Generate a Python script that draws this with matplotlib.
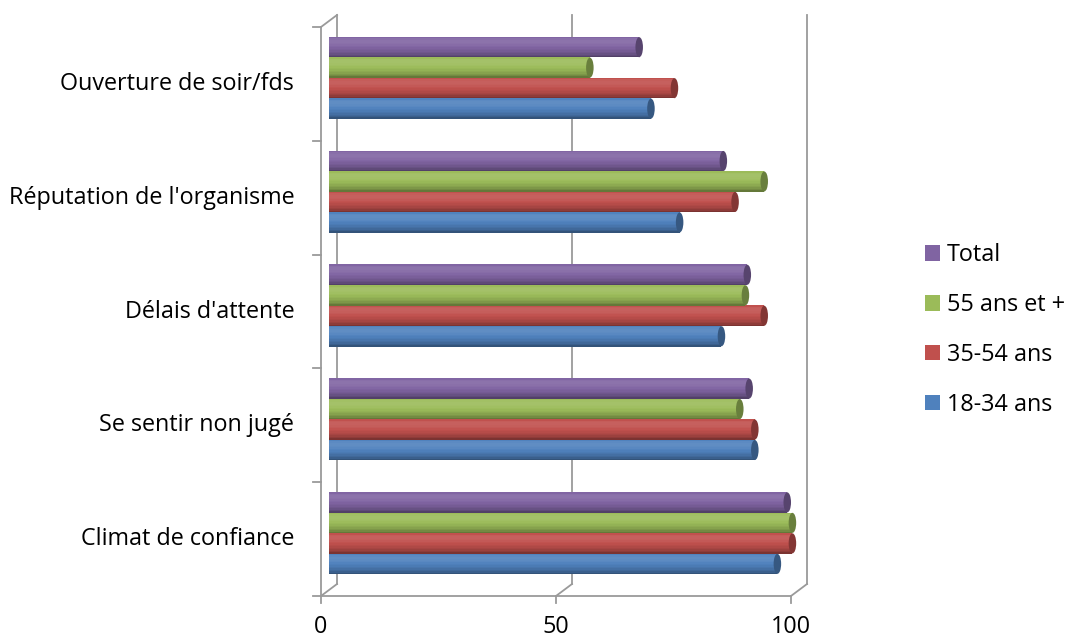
import numpy as np
import matplotlib
matplotlib.use("Agg")
import matplotlib.pyplot as plt
from matplotlib.patches import Ellipse, Patch
from matplotlib.colors import to_rgb

# data (bottom -> top as drawn)
categories = ["Climat de confiance", "Se sentir non jugé", "Délais d'attente",
              "Réputation de l'organisme", "Ouverture de soir/fds"]
series = ["18-34 ans", "35-54 ans", "55 ans et +", "Total"]
v_18_34 = [95.4, 90.6, 83.5, 74.6, 68.5]
v_35_54 = [98.6, 90.6, 92.6, 86.4, 73.5]
v_55 = [98.6, 87.4, 88.6, 92.6, 55.5]
v_total = [97.5, 89.4, 89.0, 83.9, 66.0]
xticks = [0, 50, 100]
colors = ["#4F81BD", "#C0504D", "#9BBB59", "#8064A2"]

FONT = "Open Sans"
FS = 16.8
W, H = 1066, 640
fig = plt.figure(figsize=(W / 100, H / 100), dpi=100)
# axes: x 0..100 -> px 329..799, y -0.5..4.5 -> px 590..21
ax = fig.add_axes([329 / W, 50 / H, 470 / W, 569 / H])
ax.set_xlim(0, 100)
ax.set_ylim(-0.5, 4.5)
ax.axis("off")

dx = 8 / 4.7       # depth offset in x data units
dy = 6 / 113.8     # depth offset in y data units
grid = "#9a9a9a"
lw = 1.3


def shade(c, f):
    c = np.array(to_rgb(c))
    if f > 1:
        return tuple(c + (1 - c) * (f - 1) * 1.6)
    return tuple(c * f)


# back-plane gridlines + floor
for v in xticks:
    ax.plot([v + dx, v + dx], [-0.5 + dy, 4.5 + dy], color=grid, lw=lw, clip_on=False, zorder=1)
    ax.plot([v - dx, v + dx], [-0.5 - dy, -0.5 + dy], color=grid, lw=lw, clip_on=False, zorder=1)
    ax.plot([v - dx, v - dx], [-0.5 - dy, -0.5 - dy - 0.06], color=grid, lw=lw, clip_on=False)
ax.plot([-dx, 100 - dx], [-0.5 - dy, -0.5 - dy], color=grid, lw=lw, clip_on=False, zorder=1)
# left wall front edge with ticks, top diagonal
ax.plot([-dx, -dx], [-0.5 - dy, 4.5 - dy], color=grid, lw=lw, clip_on=False, zorder=1)
ax.plot([-dx, dx], [4.5 - dy, 4.5 + dy], color=grid, lw=lw, clip_on=False, zorder=1)
for k in range(len(categories) + 1):
    yk = -0.5 - dy + k
    ax.plot([-dx - 1.6, -dx], [yk, yk], color=grid, lw=lw, clip_on=False)

# cylinder bars
bar_h = 0.18
n_strips = 14
offsets = [-1.5 * bar_h, -0.5 * bar_h, 0.5 * bar_h, 1.5 * bar_h]
ypos = np.arange(len(categories))
cap_w = 1.6
for vals, col, off in zip([v_18_34, v_35_54, v_55, v_total], colors, offsets):
    for y, v in zip(ypos, vals):
        yc = y + off
        # left rounded end
        ax.add_patch(Ellipse((0, yc), cap_w, bar_h * 0.98, color=shade(col, 0.9), zorder=2, lw=0))
        for i in range(n_strips):
            t = -1 + (2 * i + 1) / n_strips
            th = np.arcsin(t)
            s = np.cos(th - np.radians(35))
            f = 0.72 + 0.34 * s
            ax.barh(yc - bar_h / 2 + (i + 0.5) * bar_h / n_strips, v, left=0,
                    height=bar_h / n_strips * 1.05, color=shade(col, f), lw=0, zorder=3)
        ax.add_patch(Ellipse((v, yc), cap_w, bar_h * 0.98, color=shade(col, 0.68), zorder=4, lw=0))

# category labels (front plane)
for y, name in zip(ypos, categories):
    ax.text(-dx - 5.7, y - dy, name, ha="right", va="center", fontsize=FS,
            family=FONT, clip_on=False)
# value labels
for v in xticks:
    ax.text(v - dx, -0.875, str(v), ha="center", va="baseline", fontsize=FS,
            family=FONT, clip_on=False)

handles = [Patch(facecolor=c, edgecolor="none") for c in colors][::-1]
fig.legend(handles, series[::-1], loc="center left", bbox_to_anchor=(904 / W, 1 - 330 / H),
           frameon=False, handlelength=0.64, handleheight=0.64, handletextpad=0.3,
           labelspacing=1.11, prop={"family": FONT, "size": FS})

fig.savefig("out.png", dpi=100)
